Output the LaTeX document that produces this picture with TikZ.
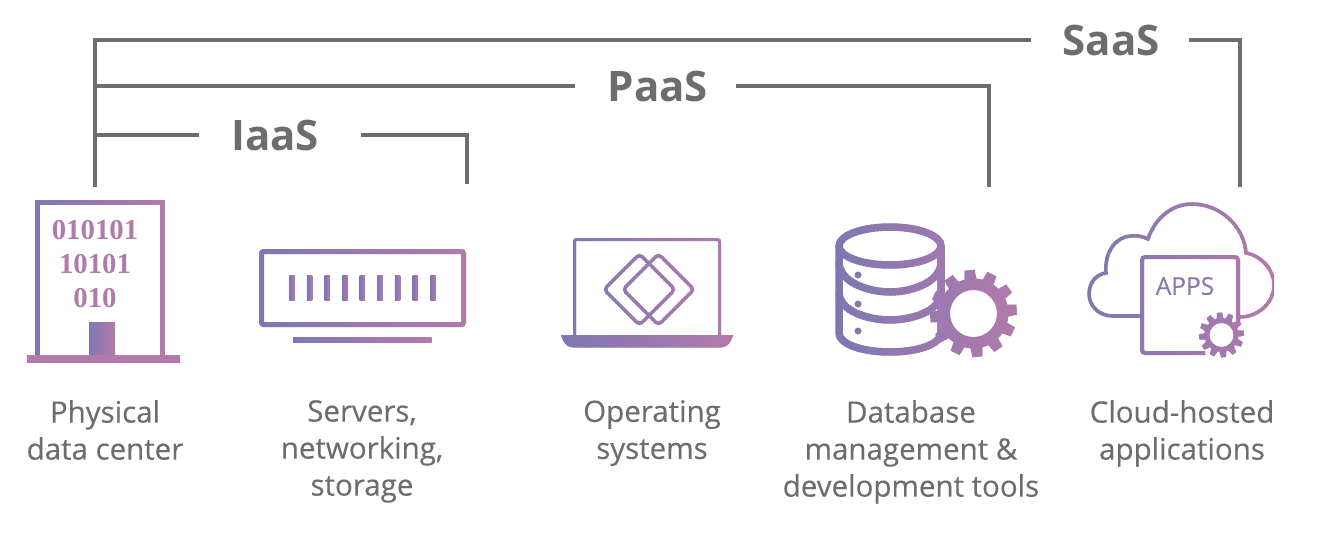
\documentclass[tikz,border=0pt]{standalone}
\usepackage{fontspec}
\setmainfont{Open Sans}
\newfontfamily\bitsfont{Liberation Serif}
\newfontfamily\capfont{Open Sans}[FakeBold=0.3]
\definecolor{gradl}{HTML}{7F77B2}
\definecolor{gradr}{HTML}{B27AAB}
\definecolor{txtgray}{HTML}{6D6D6D}
\colorlet{ink}{gradl}
\tikzset{
  x=1pt,y=-1pt,
  bracket/.style={draw=txtgray,line width=3.6pt},
  tier/.style={font=\fontsize{42}{42}\selectfont\bfseries,text=txtgray,text height=30pt,text depth=0pt,inner ysep=0pt},
  caption/.style={font=\capfont\fontsize{29.5}{37}\selectfont,text=txtgray,align=center,anchor=north,inner sep=0pt,execute at begin node=\strut},
  gradbox/.style={left color=gradl,right color=gradr,draw=none}
}
% colour strips from left to right: x0, y0, x1, y1, drawing
\newcommand{\gradicon}[5]{
  \pgfmathtruncatemacro{\nstrips}{(#3-#1)/3}
  \foreach \k in {0,...,\nstrips}{
    \pgfmathsetmacro{\pct}{100*\k/\nstrips}
    \colorlet{ink}{gradr!\pct!gradl}
    \begin{scope}
      \clip (#1+3*\k,#2) rectangle (#1+3*\k+4,#4);
      #5
    \end{scope}
  }
}
% gear: x, y, hole radius, ring radius, tip radius, tooth width
\newcommand{\gearicon}[6]{
  \fill[white] (#1,#2) circle[radius=#4];
  \fill[ink,even odd rule] (#1,#2) circle[radius=#4] circle[radius=#3];
  \foreach \a in {5,35,...,335}
    \fill[ink,rotate around={\a:(#1,#2)}] (#1-#6/2,#2-#5) -- (#1+#6/2,#2-#5) -- (#1+#6/2+1,#2-#4+1) -- (#1-#6/2-1,#2-#4+1) -- cycle;
}
\newcommand{\towericon}{
  \draw[ink,line width=5.4pt] (37.7,356) -- (37.7,202.7) -- (162.3,202.7) -- (162.3,356);
}
\newcommand{\servericon}{
  \draw[ink,line width=5pt,rounded corners=2pt] (261.5,251.5) rectangle (463.5,324.5);
}
\newcommand{\laptopicon}{
  \draw[ink,line width=3pt,rounded corners=2pt] (574.5,336) -- (574.5,239.5) -- (719.5,239.5) -- (719.5,336);
  \fill[ink] (561,335) -- (733,335) .. controls (731,343) and (727,347.5) .. (721,347.5) -- (573,347.5) .. controls (567,347.5) and (563,343) .. (561,335) -- cycle;
  \draw[ink,line width=3.5pt,rounded corners=4pt] (639.5,254) -- (675,289.5) -- (639.5,325) -- (604,289.5) -- cycle;
  \draw[ink,line width=3.5pt,rounded corners=4pt] (658.5,254) -- (694,289.5) -- (658.5,325) -- (623,289.5) -- cycle;
}
\newcommand{\dbicon}{
  \draw[ink,line width=7.5pt] (890,246) ellipse[x radius=51,y radius=19];
  \draw[ink,line width=7.5pt] (839,246) -- (839,333) .. controls (839,344) and (862,352) .. (890,352) .. controls (918,352) and (941,344) .. (941,333) -- (941,246);
  \draw[ink,line width=7.5pt] (839,262) .. controls (839,283) and (870,292) .. (890,292) .. controls (910,292) and (941,283) .. (941,262);
  \draw[ink,line width=7.5pt] (839,292) .. controls (839,312) and (870,320) .. (890,320) .. controls (910,320) and (941,312) .. (941,292);
  \fill[ink] (858,275) circle[radius=3.5] (858,304) circle[radius=3.5] (858,331) circle[radius=3.5];
  \gearicon{973.5}{313.5}{23.5}{35}{43.5}{10}
}
\newcommand{\cloudicon}{
  \draw[ink,line width=3.6pt] (1142,316) -- (1113,316)
    .. controls (1098,316) and (1089,305) .. (1089,294)
    .. controls (1089,282) and (1097,274) .. (1106,273)
    .. controls (1104,250) and (1118,236) .. (1131,236)
    .. controls (1138,235) and (1144,237) .. (1148,239)
    .. controls (1155,218) and (1172,204) .. (1192,204)
    .. controls (1220,204) and (1244,226) .. (1246,253)
    .. controls (1262,256) and (1274,270) .. (1274,285)
    .. controls (1274,303) and (1258,317) .. (1240,317);
  \draw[ink,line width=4pt,rounded corners=3pt] (1205,353) -- (1142,353) -- (1142,257) -- (1238,257) -- (1238,325);
  \gearicon{1221.5}{335}{12}{17}{22.5}{5}
}

\begin{document}
\begin{tikzpicture}
  \useasboundingbox (0,0) rectangle (1336,536);
  % brackets
  \coordinate (trunk) at (95,187);
  \coordinate (iaasend) at (467,184);
  \coordinate (paasend) at (989,187);
  \coordinate (saasend) at (1240,187);
  \node[tier,inner xsep=32pt] (iaas) at (275,135) {IaaS};
  \node[tier,inner xsep=31pt] (paas) at (658,86) {PaaS};
  \node[tier,inner xsep=31pt] (saas) at (1111,40) {SaaS};
  \draw[bracket] (trunk) |- (saas.west);
  \draw[bracket] ([xshift=-2pt]saas.east) -| (saasend);
  \draw[bracket] (trunk |- paas) -- ([xshift=-2pt]paas.west);
  \draw[bracket] ([xshift=-3pt]paas.east) -| (paasend);
  \draw[bracket] (trunk |- iaas) -- (iaas.west);
  \draw[bracket] ([xshift=10pt]iaas.east) -| (iaasend);
  % data center
  \gradicon{35}{200}{165}{356}{\towericon}
  \shade[gradbox] (89,322) rectangle (115,355);
  \fill[gradr] (27,354.5) rectangle (180,362.5);
  \node[font=\fontsize{28.8}{34}\selectfont\bitsfont\bfseries,text=gradr,align=center,inner sep=0pt] (bits) at (95,264) {010101\\10101\\010};
  % servers
  \gradicon{259}{249}{466}{327}{\servericon}
  \foreach \i in {0,...,8}
    \shade[gradbox] (289.3+17.6*\i,275.7) rectangle (294.8+17.6*\i,300.7);
  \shade[gradbox] (293,337) rectangle (431.7,342.3);
  % laptop
  \gradicon{561}{237}{733}{348}{\laptopicon}
  % database
  \gradicon{835}{223}{1018}{358}{\dbicon}
  % cloud
  \gradicon{1087}{202}{1272}{358}{\cloudicon}
  \node[font=\capfont\fontsize{24.5}{24.5}\selectfont,text=gradl!70!gradr,inner sep=0pt] (apps) at (1185,286) {APPS};
  % captions
  \node[caption] (physical) at (105,400) {Physical\\data center};
  \node[caption] (servers) at (362,400) {Servers,\\networking,\\storage};
  \node[caption] (opsys) at (652,400) {Operating\\systems};
  \node[caption] (database) at (911,400) {Database\\management \&\\development tools};
  \node[caption] (cloud) at (1182,400) {Cloud-hosted\\applications};
\end{tikzpicture}
\end{document}
